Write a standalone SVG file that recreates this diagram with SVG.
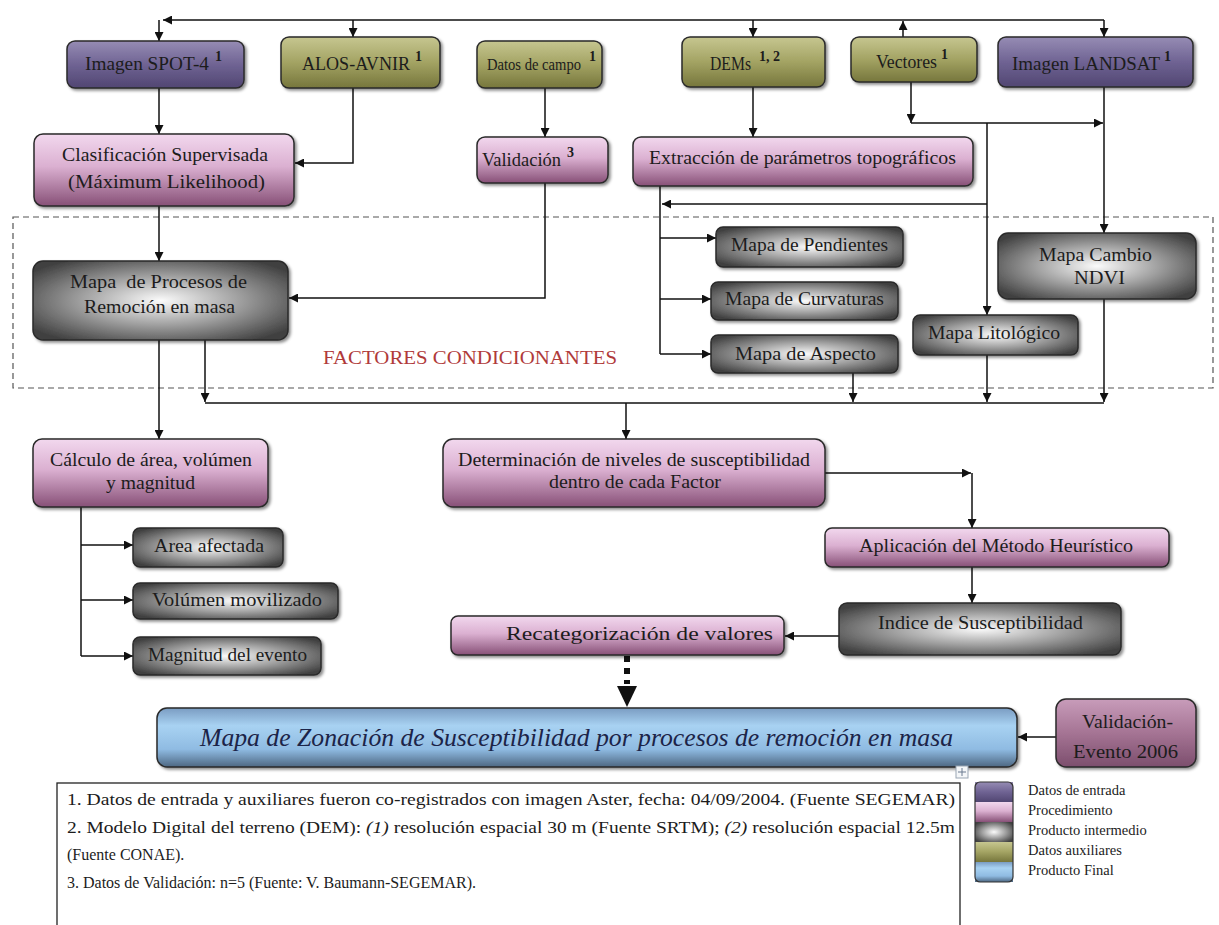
<svg xmlns="http://www.w3.org/2000/svg" width="1219" height="925" viewBox="0 0 1219 925">
<style>
.t{font-family:"Liberation Serif","Times New Roman",serif;font-size:19px;fill:#1c1c1c}
.sup{font-size:14px;font-weight:bold}
.fn{font-family:"Liberation Serif","Times New Roman",serif;font-size:16px;fill:#1c1c1c}
.lg{font-family:"Liberation Serif","Times New Roman",serif;font-size:14.5px;fill:#1c1c1c}
.box{stroke:#2a2a2a;stroke-width:1.5;filter:url(#sh)}
.c{fill:none;stroke:#111;stroke-width:1.5}
.ca{fill:none;stroke:#111;stroke-width:1.5;marker-end:url(#ah)}
</style>
<defs>
<filter id="sh" x="-10%" y="-20%" width="130%" height="150%"><feDropShadow dx="2" dy="2" stdDeviation="1.5" flood-color="#000" flood-opacity="0.45"/></filter>
<marker id="ah" viewBox="0 0 10 10" refX="10" refY="5" markerWidth="9" markerHeight="9" markerUnits="userSpaceOnUse" orient="auto"><path d="M0,0 L10,5 L0,10 z" fill="#111"/></marker>
<linearGradient id="gPurple" x1="0" y1="0" x2="0" y2="1"><stop offset="0" stop-color="#968cb4"/><stop offset="0.5" stop-color="#6f6393"/><stop offset="1" stop-color="#514672"/></linearGradient>
<linearGradient id="gOlive" x1="0" y1="0" x2="0" y2="1"><stop offset="0" stop-color="#c6c690"/><stop offset="0.5" stop-color="#a3a363"/><stop offset="1" stop-color="#76763c"/></linearGradient>
<linearGradient id="gPink" x1="0" y1="0" x2="0" y2="1"><stop offset="0" stop-color="#f2d8ee"/><stop offset="0.45" stop-color="#dbb0d1"/><stop offset="1" stop-color="#875077"/></linearGradient>
<radialGradient id="gGray" cx="0.5" cy="0.5" r="0.62"><stop offset="0" stop-color="#fbfbfb"/><stop offset="0.5" stop-color="#a0a0a0"/><stop offset="1" stop-color="#414141"/></radialGradient>
<linearGradient id="gBlue" x1="0" y1="0" x2="0" y2="1"><stop offset="0" stop-color="#7a9cc2"/><stop offset="0.3" stop-color="#a8d2f2"/><stop offset="0.7" stop-color="#8fbbe2"/><stop offset="1" stop-color="#4d6782"/></linearGradient>
<linearGradient id="gMauve" x1="0" y1="0" x2="0" y2="1"><stop offset="0" stop-color="#c89cba"/><stop offset="0.5" stop-color="#a57494"/><stop offset="1" stop-color="#7c4e6d"/></linearGradient>
</defs>
<rect width="1219" height="925" fill="#ffffff"/>

<g id="factores">
<rect x="13" y="217" width="1200" height="171" fill="none" stroke="#555" stroke-width="1.2" stroke-dasharray="6 4"/>
<text x="323" y="364" font-family="Liberation Serif,serif" font-size="19" fill="#b03a3a" textLength="294" lengthAdjust="spacingAndGlyphs">FACTORES CONDICIONANTES</text>
</g>

<g id="connectors">
<path class="ca" d="M1104,20 H163"/>
<path class="ca" d="M159,20 V41"/>
<path class="ca" d="M353,20 V37"/>
<path class="ca" d="M753,20 V37"/>
<path class="ca" d="M1104,20 V37"/>
<path class="ca" d="M903,37 V21"/>
<path class="ca" d="M159,88 V134"/>
<path class="ca" d="M353,88 V163 H295"/>
<path class="ca" d="M545,88 V137"/>
<path class="ca" d="M753,87 V137"/>
<path class="ca" d="M911,82 V123"/>
<path class="ca" d="M911,123 H1103"/>
<path class="ca" d="M1104,87 V233"/>
<path class="ca" d="M987,123 V315"/>
<path class="ca" d="M987,204 H662"/>
<path class="c" d="M660,186 V354"/>
<path class="ca" d="M660,238 H716"/>
<path class="ca" d="M660,299 H711"/>
<path class="ca" d="M660,354 H711"/>
<path class="ca" d="M545,183 V298 H289"/>
<path class="ca" d="M159,206 V261"/>
<path class="ca" d="M159,340 V439"/>
<path class="ca" d="M205,340 V402"/>
<path class="c" d="M205,403 H1104"/>
<path class="ca" d="M853,373 V402"/>
<path class="ca" d="M987,355 V402"/>
<path class="ca" d="M1104,299 V402"/>
<path class="ca" d="M626,403 V439"/>
<path class="ca" d="M825,473 H971"/>
<path class="ca" d="M972,473 V528"/>
<path class="ca" d="M972,567 V603"/>
<path class="ca" d="M839,636 H785"/>
<path d="M627,656 V684" fill="none" stroke="#111" stroke-width="6" stroke-dasharray="6 6"/>
<path d="M617,686 L637,686 L627,707 z" fill="#111"/>
<path class="ca" d="M1056,737 H1018"/>
<path class="c" d="M81,507 V656"/>
<path class="ca" d="M81,545 H133"/>
<path class="ca" d="M81,600 H133"/>
<path class="ca" d="M81,656 H133"/>
</g>

<g id="spot"><rect class="box" x="67" y="41" width="177" height="47" rx="8" fill="url(#gPurple)"/>
<text class="t" x="85" y="70" textLength="124" lengthAdjust="spacingAndGlyphs">Imagen SPOT-4</text>
<text class="t sup" x="215" y="61">1</text></g>
<g id="alos"><rect class="box" x="281" y="37" width="159" height="51" rx="8" fill="url(#gOlive)"/>
<text class="t" x="302" y="70" textLength="108" lengthAdjust="spacingAndGlyphs">ALOS-AVNIR</text>
<text class="t sup" x="415" y="61">1</text></g>
<g id="campo"><rect class="box" x="477" y="41" width="125" height="47" rx="8" fill="url(#gOlive)"/>
<text class="t" x="487" y="70" style="font-size:16px" textLength="94" lengthAdjust="spacingAndGlyphs">Datos de campo</text>
<text class="t sup" x="589" y="61">1</text></g>
<g id="dems"><rect class="box" x="682" y="37" width="143" height="50" rx="8" fill="url(#gOlive)"/>
<text class="t" x="710" y="70" textLength="41" lengthAdjust="spacingAndGlyphs">DEMs</text>
<text class="t sup" x="759" y="61">1, 2</text></g>
<g id="vectores"><rect class="box" x="851" y="37" width="126" height="45" rx="8" fill="url(#gOlive)"/>
<text class="t" x="876" y="68" textLength="61" lengthAdjust="spacingAndGlyphs">Vectores</text>
<text class="t sup" x="941" y="59">1</text></g>
<g id="landsat"><rect class="box" x="998" y="37" width="195" height="50" rx="8" fill="url(#gPurple)"/>
<text class="t" x="1012" y="70" textLength="148" lengthAdjust="spacingAndGlyphs">Imagen LANDSAT</text>
<text class="t sup" x="1164" y="61">1</text></g>

<g id="clasificacion"><rect class="box" x="34" y="134" width="260" height="72" rx="9" fill="url(#gPink)"/>
<text class="t" x="62" y="161" textLength="206" lengthAdjust="spacingAndGlyphs">Clasificación Supervisada</text>
<text class="t" x="68" y="188" textLength="197" lengthAdjust="spacingAndGlyphs">(Máximum Likelihood)</text></g>
<g id="validacion"><rect class="box" x="477" y="137" width="131" height="46" rx="8" fill="url(#gPink)"/>
<text class="t" x="482" y="166" textLength="79" lengthAdjust="spacingAndGlyphs">Validación</text>
<text class="t sup" x="567" y="157">3</text></g>
<g id="extraccion"><rect class="box" x="633" y="137" width="340" height="49" rx="8" fill="url(#gPink)"/>
<text class="t" x="649" y="164" textLength="307" lengthAdjust="spacingAndGlyphs">Extracción de parámetros topográficos</text></g>

<g id="procesos"><rect class="box" x="33" y="261" width="255" height="79" rx="10" fill="url(#gGray)"/>
<text class="t" x="70" y="288" textLength="177" lengthAdjust="spacingAndGlyphs" xml:space="preserve">Mapa  de Procesos de</text>
<text class="t" x="84" y="313" textLength="151" lengthAdjust="spacingAndGlyphs">Remoción en masa</text></g>
<g id="pendientes"><rect class="box" x="716" y="227" width="187" height="40" rx="7" fill="url(#gGray)"/>
<text class="t" x="731" y="251" textLength="157" lengthAdjust="spacingAndGlyphs">Mapa de Pendientes</text></g>
<g id="curvaturas"><rect class="box" x="711" y="282" width="187" height="38" rx="7" fill="url(#gGray)"/>
<text class="t" x="725" y="305" textLength="159" lengthAdjust="spacingAndGlyphs">Mapa de Curvaturas</text></g>
<g id="aspecto"><rect class="box" x="711" y="335" width="187" height="38" rx="7" fill="url(#gGray)"/>
<text class="t" x="735" y="360" textLength="141" lengthAdjust="spacingAndGlyphs">Mapa de Aspecto</text></g>
<g id="litologico"><rect class="box" x="913" y="315" width="165" height="40" rx="7" fill="url(#gGray)"/>
<text class="t" x="928" y="339" textLength="132" lengthAdjust="spacingAndGlyphs">Mapa Litológico</text></g>
<g id="ndvi"><rect class="box" x="998" y="233" width="198" height="66" rx="10" fill="url(#gGray)"/>
<text class="t" x="1039" y="261" textLength="113" lengthAdjust="spacingAndGlyphs">Mapa Cambio</text>
<text class="t" x="1074" y="284" textLength="51" lengthAdjust="spacingAndGlyphs">NDVI</text></g>

<g id="calculo"><rect class="box" x="33" y="439" width="235" height="68" rx="9" fill="url(#gPink)"/>
<text class="t" x="50" y="466" textLength="202" lengthAdjust="spacingAndGlyphs">Cálculo de área, volúmen</text>
<text class="t" x="106" y="489" textLength="89" lengthAdjust="spacingAndGlyphs">y magnitud</text></g>
<g id="area"><rect class="box" x="133" y="528" width="150" height="39" rx="7" fill="url(#gGray)"/>
<text class="t" x="154" y="552" textLength="110" lengthAdjust="spacingAndGlyphs">Area afectada</text></g>
<g id="volumen"><rect class="box" x="133" y="583" width="205" height="36" rx="7" fill="url(#gGray)"/>
<text class="t" x="152" y="606" textLength="170" lengthAdjust="spacingAndGlyphs">Volúmen movilizado</text></g>
<g id="magnitud"><rect class="box" x="133" y="637" width="188" height="38" rx="7" fill="url(#gGray)"/>
<text class="t" x="148" y="661" textLength="159" lengthAdjust="spacingAndGlyphs">Magnitud del evento</text></g>

<g id="determinacion"><rect class="box" x="443" y="439" width="382" height="68" rx="10" fill="url(#gPink)"/>
<text class="t" x="458" y="466" textLength="352" lengthAdjust="spacingAndGlyphs">Determinación de niveles de susceptibilidad</text>
<text class="t" x="549" y="488" textLength="172" lengthAdjust="spacingAndGlyphs">dentro de cada Factor</text></g>
<g id="aplicacion"><rect class="box" x="825" y="528" width="344" height="39" rx="7" fill="url(#gPink)"/>
<text class="t" x="859" y="552" textLength="274" lengthAdjust="spacingAndGlyphs">Aplicación del Método Heurístico</text></g>
<g id="indice"><rect class="box" x="839" y="603" width="282" height="52" rx="8" fill="url(#gGray)"/>
<text class="t" x="878" y="629" textLength="205" lengthAdjust="spacingAndGlyphs">Indice de Susceptibilidad</text></g>
<g id="recategorizacion"><rect class="box" x="451" y="616" width="333" height="39" rx="7" fill="url(#gPink)"/>
<text class="t" x="506" y="640" textLength="267" lengthAdjust="spacingAndGlyphs">Recategorización de valores</text></g>

<g id="zonacion"><rect class="box" x="157" y="708" width="860" height="59" rx="10" fill="url(#gBlue)"/>
<text x="200" y="746" font-family="Liberation Serif,serif" font-style="italic" font-size="26" fill="#1c2448" textLength="753" lengthAdjust="spacingAndGlyphs">Mapa de Zonación de Susceptibilidad por procesos de remoción en masa</text></g>
<g id="validacion-evento"><rect class="box" x="1056" y="699" width="140" height="68" rx="10" fill="url(#gMauve)"/>
<text class="t" x="1082" y="728" textLength="91" lengthAdjust="spacingAndGlyphs">Validación-</text>
<text class="t" x="1073" y="758" textLength="105" lengthAdjust="spacingAndGlyphs">Evento 2006</text></g>

<g id="handle">
<rect x="956" y="766" width="12" height="12" fill="#f4f6f8" stroke="#9aa6b4" stroke-width="1"/>
<path d="M962,768 V776 M958,772 H966" stroke="#6a7a90" stroke-width="1"/>
</g>

<g id="notas">
<rect x="57" y="783" width="903" height="160" fill="#fff" stroke="#222" stroke-width="1.3"/>
<text class="fn" x="67" y="805" textLength="888" lengthAdjust="spacingAndGlyphs">1. Datos de entrada y auxiliares fueron co-registrados con imagen Aster, fecha: 04/09/2004. (Fuente SEGEMAR)</text>
<text class="fn" x="67" y="833" textLength="888" lengthAdjust="spacingAndGlyphs">2. Modelo Digital del terreno (DEM): <tspan font-style="italic">(1)</tspan> resolución espacial 30 m (Fuente SRTM); <tspan font-style="italic">(2)</tspan> resolución espacial 12.5m</text>
<text class="fn" x="67" y="860">(Fuente CONAE).</text>
<text class="fn" x="67" y="888">3. Datos de Validación: n=5 (Fuente: V. Baumann-SEGEMAR).</text>
</g>

<g id="leyenda">
<rect x="975" y="782" width="38" height="20" fill="url(#gPurple)"/>
<rect x="975" y="802" width="38" height="20" fill="url(#gPink)"/>
<rect x="975" y="822" width="38" height="20" fill="url(#gGray)"/>
<rect x="975" y="842" width="38" height="20" fill="url(#gOlive)"/>
<rect x="975" y="862" width="38" height="20" fill="url(#gBlue)"/>
<rect x="975" y="782" width="38" height="100" rx="5" fill="none" stroke="#333" stroke-width="1.2"/>
<text class="lg" x="1028" y="795">Datos de entrada</text>
<text class="lg" x="1028" y="815">Procedimiento</text>
<text class="lg" x="1028" y="835">Producto intermedio</text>
<text class="lg" x="1028" y="855">Datos auxiliares</text>
<text class="lg" x="1028" y="875">Producto Final</text>
</g>
</svg>
